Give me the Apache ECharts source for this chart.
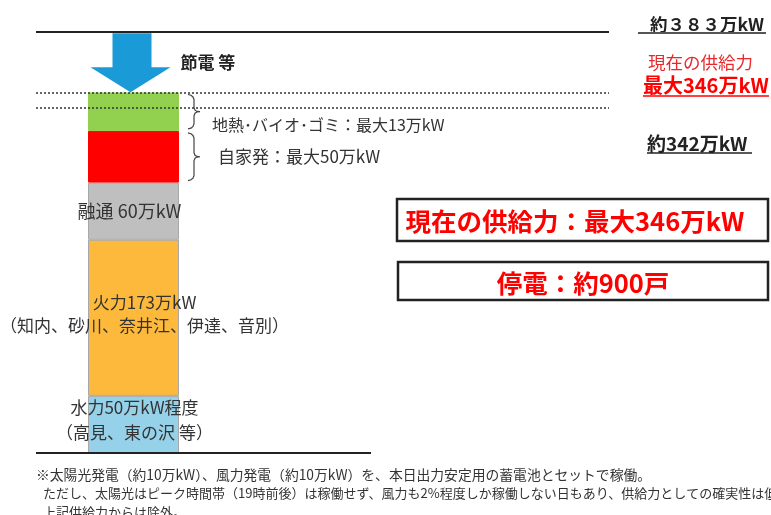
<!doctype html>
<html>
<head>
<meta charset="utf-8">
<title>供給力の内訳</title>
<script src="https://cdn.jsdelivr.net/npm/echarts@6/dist/echarts.min.js"></script>
<style>
    body{margin:0;background:#fff;}
    #main{width:771px;height:515px;}
</style>
</head>
<body>
<div id="main"></div>
<script>
    // 積み上げ（下から）: 図の高さから読んだ値
    var categories = ['供給力'];
    var segNames = ['水力', '火力', '融通', '自家発', '地熱・バイオ・ゴミ'];
    var segValues = [52, 142, 52, 47, 35];
    var segColors = ['#96d1ea', '#fdb93c', '#bfbfbf', '#ff0000', '#92d050'];
    var segLabels = [
        '水力50万kW程度\n（高見、東の沢 等）',
        '火力173万kW\n（知内、砂川、奈井江、伊達、音別）',
        '融通 60万kW',
        '自家発：最大50万kW',
        '地熱･バイオ･ゴミ：最大13万kW'
    ];
    // 横線: 上限 / 現在の供給力 / 約342 / 基線
    var levelValues = [383, 328, 314, 0];
    var levelTexts = ['約３８３万kW', '最大346万kW', '約342万kW'];
    var savingValue = 355;   // 節電 矢印の中心
    var boxTexts = ['現在の供給力：最大346万kW', '停電：約900戸'];
    var noteLines = [
        '※太陽光発電（約10万kW）、風力発電（約10万kW）を、本日出力安定用の蓄電池とセットで稼働。',
        'ただし、太陽光はピーク時間帯（19時前後）は稼働せず、風力も2%程度しか稼働しない日もあり、供給力としての確実性は低',
        '上記供給力からは除外。'
    ];

    var FONT = '"Noto Sans CJK JP", sans-serif';

    var labelOpts = [
        {position: 'inside', offset: [1, -4], lineHeight: 25, fontSize: 17},
        {position: 'inside', offset: [11, -4], lineHeight: 23, fontSize: 17},
        {position: 'inside', offset: [-4, 0], fontSize: 18},
        {position: 'right', distance: 39, offset: [0, 0], fontSize: 17},
        {position: 'right', distance: 33, offset: [0, 13], fontSize: 16}
    ];

    var series = [];
    for (var i = 0; i < segValues.length; i++) {
        series.push({
            name: segNames[i],
            type: 'bar',
            stack: 'supply',
            xAxisIndex: 0,
            yAxisIndex: 0,
            barWidth: 91,
            data: [segValues[i]],
            itemStyle: {
                color: segColors[i],
                borderColor: i < 3 ? '#a8a8a8' : segColors[i],
                borderWidth: 1
            },
            label: Object.assign({
                show: true,
                formatter: segLabels[i],
                color: '#333',
                fontFamily: FONT
            }, labelOpts[i]),
            emphasis: {disabled: true},
            silent: true
        });
    }

    // 節電 矢印
    series[4].markPoint = {
        silent: true,
        symbol: 'path://M22,0 L61,0 L61,34 L80,34 L40,59 L0,34 L22,34 Z',
        symbolSize: [80, 59],
        symbolOffset: [-3, 0],
        itemStyle: {color: '#1b9ad8'},
        label: {
            show: true,
            position: 'right',
            distance: 10,
            formatter: '節電 等',
            color: '#222',
            fontSize: 17,
            fontWeight: 'bold',
            fontFamily: FONT
        },
        data: [{coord: [categories[0], savingValue]}]
    };

    // 横線（上限・点線）
    series.push({
        type: 'line',
        xAxisIndex: 1,
        yAxisIndex: 1,
        data: [],
        silent: true,
        markLine: {
            symbol: 'none',
            silent: true,
            label: {show: false},
            data: [
                {yAxis: levelValues[0], lineStyle: {type: 'solid', width: 2, color: '#222'}},
                {yAxis: levelValues[1], lineStyle: {type: [2, 2], width: 1.5, color: '#333'}},
                {yAxis: levelValues[2], lineStyle: {type: [2, 2], width: 1.5, color: '#333'}}
            ]
        }
    });
    // 基線
    series.push({
        type: 'line',
        xAxisIndex: 2,
        yAxisIndex: 2,
        data: [],
        silent: true,
        markLine: {
            symbol: 'none',
            silent: true,
            label: {show: false},
            data: [{yAxis: levelValues[3], lineStyle: {type: 'solid', width: 2, color: '#222'}}]
        }
    });

    var myChart = echarts.init(document.getElementById('main'));
    var option = {
        animation: false,
        grid: [
            {left: 88, top: 32, width: 91, height: 421},
            {left: 36, top: 32, width: 573, height: 421},
            {left: 36, top: 32, width: 335, height: 421}
        ],
        xAxis: [
            {type: 'category', gridIndex: 0, data: categories, show: false},
            {type: 'value', gridIndex: 1, min: 0, max: 100, show: false},
            {type: 'value', gridIndex: 2, min: 0, max: 100, show: false}
        ],
        yAxis: [
            {type: 'value', gridIndex: 0, min: 0, max: 383, show: false},
            {type: 'value', gridIndex: 1, min: 0, max: 383, show: false},
            {type: 'value', gridIndex: 2, min: 0, max: 383, show: false}
        ],
        series: series
    };
    myChart.setOption(option);

    // 括弧・注記（括弧の位置は軸から換算）
    function py(v) { return myChart.convertToPixel({xAxisIndex: 0, yAxisIndex: 0}, [categories[0], v])[1]; }
    var barRight = myChart.convertToPixel({xAxisIndex: 0, yAxisIndex: 0}, [categories[0], 0])[0] + 45.5;
    var cum = [];
    var acc = 0;
    for (var j = 0; j < segValues.length; j++) { cum.push([acc, acc + segValues[j]]); acc += segValues[j]; }

    function brace(lo, hi) {
        var x0 = barRight + 9, yt = py(hi) + 2, yb = py(lo) - 2, ym = (yt + yb) / 2;
        var xm = x0 + 6;
        return {
            type: 'polyline',
            silent: true,
            shape: {
                points: [
                    [x0, yt], [x0 + 3, yt + 0.8], [x0 + 5, yt + 2.5], [xm, yt + 5],
                    [xm, ym - 4], [xm + 1, ym - 1.5], [xm + 3, ym - 0.3], [xm + 6, ym],
                    [xm + 3, ym + 0.3], [xm + 1, ym + 1.5], [xm, ym + 4],
                    [xm, yb - 5], [x0 + 5, yb - 2.5], [x0 + 3, yb - 0.8], [x0, yb]
                ]
            },
            style: {fill: null, stroke: '#444', lineWidth: 1.2}
        };
    }

    function txt(x, y, t, size, color, bold, align) {
        return {
            type: 'text', silent: true, x: x, y: y,
            style: {
                text: t, fill: color, fontSize: size, fontFamily: FONT,
                fontWeight: bold ? 'bold' : 'normal',
                align: align || 'left', verticalAlign: 'middle'
            }
        };
    }
    function uline(x1, x2, y, color, w) {
        return {type: 'line', silent: true, shape: {x1: x1, y1: y, x2: x2, y2: y}, style: {stroke: color, lineWidth: w}};
    }

    var graphics = [
        brace(cum[4][0], cum[4][1]),
        brace(cum[3][0], cum[3][1]),
        txt(650, 24, levelTexts[0], 17.5, '#222', true),
        uline(638, 766, 33, '#555', 2),
        txt(648, 62, '現在の供給力', 17.5, '#e8282d', false),
        txt(643, 85, levelTexts[1], 20, '#ff0000', true),
        uline(643, 769, 96, '#ff0000', 1.5),
        txt(647, 144, levelTexts[2], 19, '#222', true),
        uline(647, 752, 153, '#222', 1.5),
        {type: 'rect', silent: true, shape: {x: 397, y: 199, width: 371, height: 42}, style: {fill: '#fff', stroke: '#222', lineWidth: 2.5}},
        txt(575, 221, boxTexts[0], 25.5, '#ff0000', true, 'center'),
        {type: 'rect', silent: true, shape: {x: 398, y: 262, width: 370, height: 38}, style: {fill: '#fff', stroke: '#222', lineWidth: 2.5}},
        txt(583, 283, boxTexts[1], 25.5, '#ff0000', true, 'center'),
        txt(36, 475, noteLines[0], 13.8, '#333', false),
        txt(43, 493, noteLines[1], 13, '#333', false),
        txt(43, 512, noteLines[2], 13, '#333', false)
    ];
    myChart.setOption({graphic: graphics});
</script>
</body>
</html>
